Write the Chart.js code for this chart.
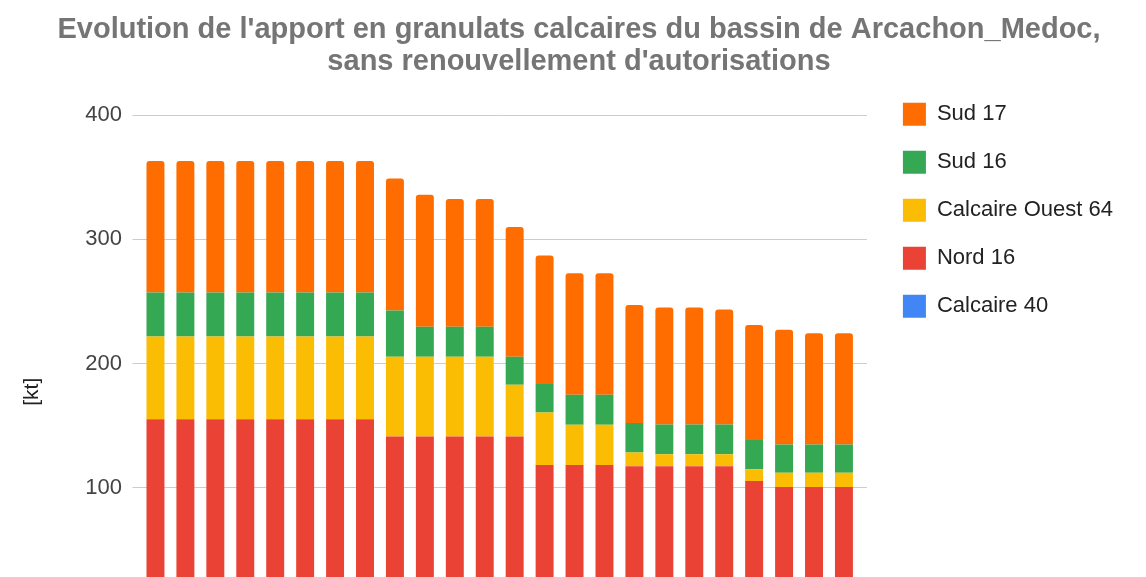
<!DOCTYPE html>
<html>
<head>
<meta charset="utf-8">
<script src="https://cdn.jsdelivr.net/npm/chart.js@4"></script>
<style>
  html, body { margin: 0; padding: 0; background: #fff; overflow: hidden; }
  #cadre { position: relative; width: 1146px; height: 636px; }
</style>
</head>
<body>
<div id="cadre"><canvas id="graphique"></canvas></div>
<script>
// années (axe des x coupé sur l'image)
const annees = ['2021', '2022', '2023', '2024', '2025', '2026', '2027', '2028', '2029', '2030', '2031', '2032',
                '2033', '2034', '2035', '2036', '2037', '2038', '2039', '2040', '2041', '2042', '2043', '2044'];

// apports en kt
const calcaire40 = [0, 0, 0, 0, 0, 0, 0, 0, 0, 0, 0, 0, 0, 0, 0, 0, 0, 0, 0, 0, 0, 0, 0, 0];
const nord16 = [155.4, 155.4, 155.4, 155.4, 155.4, 155.4, 155.4, 155.4, 141.4, 141.4, 141.4, 141.4,
                141.4, 118.5, 118.5, 118.5, 117.5, 117.5, 117.5, 117.5, 105.6, 100.8, 100.8, 100.8];
const calcaireOuest64 = [66.4, 66.4, 66.4, 66.4, 66.4, 66.4, 66.4, 66.4, 64.2, 64.2, 64.2, 64.2,
                         41.7, 42.3, 32.3, 32.3, 11.0, 9.7, 9.7, 9.7, 9.4, 11.5, 11.5, 11.5];
const sud16 = [35.5, 35.5, 35.5, 35.5, 35.5, 35.5, 35.5, 35.5, 37.1, 24.2, 24.2, 24.2,
               22.5, 22.8, 24.2, 24.2, 23.7, 23.8, 23.8, 23.8, 23.7, 22.7, 22.7, 22.7];
const sud17 = [105.8, 105.8, 105.8, 105.8, 105.8, 105.8, 105.8, 105.8, 106.3, 106.2, 102.7, 102.7,
               104.3, 103.5, 97.8, 97.8, 95.1, 94.2, 94.2, 92.5, 92.5, 92.4, 89.4, 89.4];

const yTicks = [0, 100, 200, 300, 400];

const police = "'Liberation Sans', Arial, sans-serif";
const garderTicks = scale => { scale.ticks = scale.ticks.filter(t => yTicks.includes(t.value)); };

new Chart(document.getElementById('graphique'), {
    type: 'bar',
    data: {
        labels: annees,
        datasets: [
            { label: 'Calcaire 40', data: calcaire40, backgroundColor: '#4285f4' },
            { label: 'Nord 16', data: nord16, backgroundColor: '#ea4335' },
            { label: 'Calcaire Ouest 64', data: calcaireOuest64, backgroundColor: '#fbbc04' },
            { label: 'Sud 16', data: sud16, backgroundColor: '#34a853' },
            { label: 'Sud 17', data: sud17, backgroundColor: '#ff6d01',
              borderRadius: { topLeft: 3, topRight: 3, bottomLeft: 0, bottomRight: 0 } }
        ]
    },
    options: {
        responsive: true,
        maintainAspectRatio: false,
        animation: false,
        layout: { padding: { left: 35, right: 23, top: 0, bottom: 0 } },
        datasets: { bar: { barPercentage: 0.6, categoryPercentage: 1.0 } },
        plugins: {
            title: {
                display: true,
                text: ["Evolution de l'apport en granulats calcaires du bassin de Arcachon_Medoc,",
                       "sans renouvellement d'autorisations"],
                color: '#757575',
                font: { family: police, size: 29, weight: 'bold', lineHeight: 1.1 },
                padding: { top: 14, bottom: 0 }
            },
            legend: {
                display: true,
                position: 'right',
                align: 'start',
                fullSize: false,
                maxWidth: 400,
                reverse: true,
                labels: {
                    boxWidth: 23,
                    boxHeight: 23,
                    padding: 25,
                    color: '#222',
                    font: { family: police, size: 22 }
                }
            },
            tooltip: { enabled: false }
        },
        scales: {
            x: {
                stacked: true,
                display: false
            },
            y: {
                stacked: true,
                min: 0,
                max: 430,
                afterBuildTicks: garderTicks,
                afterFit: scale => { scale.width = 105.5; },
                grid: { color: '#cccccc', drawTicks: true, tickLength: 8 },
                border: { display: false },
                ticks: { stepSize: 100, padding: 10.5, color: '#444', font: { family: police, size: 22 } },
                // espaces finaux : le libellé est plus bas que le milieu de la zone
                title: { display: true, text: '[kt]                ', color: '#222', padding: { top: -15, bottom: 4 },
                         font: { family: police, size: 21 } }
            },
            y2: {
                position: 'right',
                min: 0,
                max: 430,
                afterBuildTicks: garderTicks,
                afterFit: scale => { scale.width = 19; },
                grid: { color: '#cccccc', drawOnChartArea: false, drawTicks: true, tickLength: 8 },
                border: { display: false },
                ticks: { display: false, stepSize: 100 }
            }
        }
    }
});
</script>
</body>
</html>
